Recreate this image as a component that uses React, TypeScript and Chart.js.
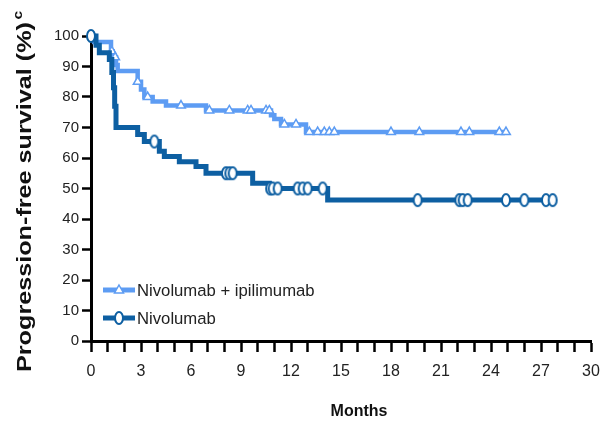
import React, { useEffect, useRef } from 'react';
import { Chart, registerables } from 'chart.js';

Chart.register(...registerables);

// ---- Data ----
const seriesNames = ['Nivolumab + ipilimumab', 'Nivolumab'];

const comboTimes = [0, 0.2, 1.2, 1.3, 1.5, 1.6, 2.8, 3.0, 3.2, 3.7, 4.5, 6.9, 10.8, 11.0, 11.4, 12.9, 25.0];
const comboSurvival = [100, 98, 95, 93, 90.5, 88.5, 85, 82.5, 80, 78.5, 77.2, 75.6, 74, 72.8, 71, 68.5, 68.5];
const comboCensorTimes = [1.25, 1.45, 2.8, 3.4, 5.4, 7.1, 8.3, 9.4, 9.6, 10.5, 10.7, 11.6, 12.3, 13.1, 13.6, 14.0, 14.3, 14.6, 18.0, 19.7, 22.2, 22.7, 24.5, 24.9];

const nivoTimes = [0, 0.3, 0.5, 1.1, 1.25, 1.35, 1.42, 1.5, 2.8, 3.2, 4.1, 4.4, 5.3, 6.3, 6.9, 9.7, 10.7, 14.2, 27.7];
const nivoSurvival = [100, 97, 94.5, 92.3, 88, 83, 77, 70, 67.7, 65.4, 62.2, 60.5, 58.8, 57.2, 55, 51.7, 50, 46.2, 46.2];
const nivoCensorTimes = [0, 3.8, 8.1, 8.3, 8.5, 10.75, 10.9, 11.2, 12.4, 12.7, 13.0, 13.9, 19.6, 22.1, 22.3, 22.6, 24.9, 26.0, 27.3, 27.7];

const xLabelMonths = [0, 3, 6, 9, 12, 15, 18, 21, 24, 27, 30];
const yTickValues = [0, 10, 20, 30, 40, 50, 60, 70, 80, 90, 100];

const xTitle = 'Months';
const yTitle = 'Progression-free survival (%)';
const yTitleSup = 'c';

const LIGHT = '#5d9cf3';
const DARK = '#0d5fa2';
const TEXT = '#222222';
const FONT = '"Liberation Sans", Arial, Helvetica, sans-serif';

function stepValue(times: number[], surv: number[], t: number): number {
  let v = surv[0];
  for (let i = 0; i < times.length; i++) {
    if (times[i] <= t) v = surv[i];
  }
  return v;
}

function makeOval(color: string): HTMLCanvasElement {
  const c = document.createElement('canvas');
  c.width = 12;
  c.height = 16;
  const ctx = c.getContext('2d')!;
  ctx.beginPath();
  ctx.ellipse(6, 8, 4, 6, 0, 0, Math.PI * 2);
  ctx.fillStyle = '#ffffff';
  ctx.fill();
  ctx.lineWidth = 2;
  ctx.strokeStyle = color;
  ctx.stroke();
  return c;
}

function drawTriangle(ctx: CanvasRenderingContext2D, x: number, y: number, color: string) {
  ctx.beginPath();
  ctx.moveTo(x, y - 5);
  ctx.lineTo(x + 4.5, y + 3);
  ctx.lineTo(x - 4.5, y + 3);
  ctx.closePath();
  ctx.fillStyle = '#ffffff';
  ctx.fill();
  ctx.lineWidth = 1.5;
  ctx.strokeStyle = color;
  ctx.stroke();
}

export default function App() {
  const ref = useRef<HTMLCanvasElement | null>(null);

  useEffect(() => {
    document.body.style.margin = '0';
    const canvas = ref.current;
    if (!canvas) return;
    const oval = makeOval(DARK);

    const legendPlugin = {
      id: 'kmLegend',
      afterDraw(chart: any) {
        const ctx: CanvasRenderingContext2D = chart.ctx;
        ctx.save();
        const rows = [
          { y: 290, color: LIGHT, name: seriesNames[0], marker: 'tri' },
          { y: 318, color: DARK, name: seriesNames[1], marker: 'oval' },
        ];
        rows.forEach((r) => {
          ctx.beginPath();
          ctx.moveTo(103, r.y);
          ctx.lineTo(135, r.y);
          ctx.lineWidth = 5;
          ctx.strokeStyle = r.color;
          ctx.stroke();
          if (r.marker === 'tri') drawTriangle(ctx, 119, r.y, r.color);
          else ctx.drawImage(oval, 119 - 6, r.y - 8);
          ctx.fillStyle = TEXT;
          ctx.font = `16.7px ${FONT}`;
          ctx.textAlign = 'left';
          ctx.textBaseline = 'middle';
          ctx.fillText(r.name, 137, r.y + 1);
        });
        // axis titles
        ctx.fillStyle = '#111111';
        ctx.font = `bold 16px ${FONT}`;
        ctx.textAlign = 'center';
        ctx.textBaseline = 'middle';
        ctx.fillText(xTitle, 359, 412);

        ctx.save();
        ctx.translate(25, 372);
        ctx.rotate(-Math.PI / 2);
        ctx.font = `bold 21px ${FONT}`;
        const w = ctx.measureText(yTitle).width;
        const sx = 350 / w;
        ctx.scale(sx, 1);
        ctx.textAlign = 'left';
        ctx.textBaseline = 'middle';
        ctx.fillText(yTitle, 0, 0);
        ctx.font = `bold 13px ${FONT}`;
        ctx.fillText(yTitleSup, w + 2, -7);
        ctx.restore();
        ctx.restore();
      },
    };

    const chart = new Chart(canvas, {
      type: 'line',
      data: {
        datasets: [
          {
            label: seriesNames[1] + ' censored',
            data: nivoCensorTimes.map((t) => ({ x: t, y: stepValue(nivoTimes, nivoSurvival, t) })),
            showLine: false,
            pointStyle: oval as any,
            pointRadius: 6,
            borderColor: DARK,
            backgroundColor: '#fff',
            clip: false as any,
            order: 1,
          },
          {
            label: seriesNames[1],
            data: nivoTimes.map((t, i) => ({ x: t, y: nivoSurvival[i] })),
            stepped: 'before',
            borderColor: DARK,
            borderWidth: 5,
            pointRadius: 0,
            fill: false,
            clip: false as any,
            order: 2,
          },
          {
            label: seriesNames[0] + ' censored',
            data: comboCensorTimes.map((t) => ({ x: t, y: stepValue(comboTimes, comboSurvival, t) })),
            showLine: false,
            pointStyle: 'triangle',
            pointRadius: 5,
            borderWidth: 1.5,
            borderColor: LIGHT,
            backgroundColor: '#fff',
            clip: false as any,
            order: 3,
          },
          {
            label: seriesNames[0],
            data: comboTimes.map((t, i) => ({ x: t, y: comboSurvival[i] })),
            stepped: 'before',
            borderColor: LIGHT,
            borderWidth: 4.5,
            pointRadius: 0,
            fill: false,
            clip: false as any,
            order: 4,
          },
        ],
      },
      options: {
        animation: false,
        responsive: true,
        maintainAspectRatio: false,
        layout: { padding: { top: 36, right: 0, left: 0, bottom: 0 } },
        plugins: {
          legend: { display: false },
          tooltip: { enabled: false },
        },
        scales: {
          x: {
            type: 'linear',
            min: 0,
            max: 30,
            afterFit: (s: any) => {
              s.height = 82;
              s.paddingRight = 9;
            },
            ticks: {
              stepSize: 1,
              autoSkip: false,
              maxRotation: 0,
              padding: 10,
              color: TEXT,
              font: { family: FONT, size: 16 },
              callback: (v: any) => (xLabelMonths.includes(Number(v)) ? String(v) : ''),
            },
            grid: {
              drawOnChartArea: false,
              drawTicks: true,
              tickLength: 11,
              tickWidth: 2.5,
              tickColor: '#000',
            },
            border: { display: true, color: '#000', width: 3 },
          },
          y: {
            type: 'linear',
            min: 0,
            max: 100,
            afterFit: (s: any) => {
              s.width = 91;
            },
            afterBuildTicks: (s: any) => {
              s.ticks = yTickValues.map((v) => ({ value: v }));
            },
            ticks: {
              padding: 3,
              color: TEXT,
              font: { family: FONT, size: 15 },
            },
            grid: {
              drawOnChartArea: false,
              drawTicks: true,
              tickLength: 9,
              tickWidth: 2.5,
              tickColor: '#000',
            },
            border: { display: true, color: '#000', width: 3 },
          },
        },
      },
      plugins: [legendPlugin],
    } as any);

    return () => chart.destroy();
  }, []);

  return (
    <div style={{ position: 'fixed', left: 0, top: 0, width: 600, height: 423, background: '#fff' }}>
      <canvas ref={ref} />
    </div>
  );
}
